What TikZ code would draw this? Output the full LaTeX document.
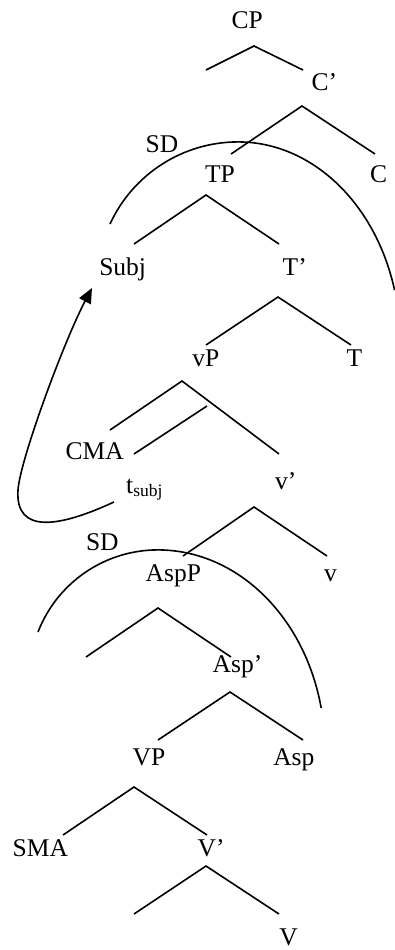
\documentclass[tikz,border=0pt]{standalone}
\usepackage{fontspec}
\setmainfont{Liberation Serif}
\usetikzlibrary{arrows.meta}
\tikzset{
  lab/.style={anchor=base west, inner sep=0pt, outer sep=0pt, font=\fontsize{25.5}{30}\selectfont},
  branch/.style={line width=1.6pt, line cap=butt},
  sdarc/.style={line width=1.6pt},
  movearrow/.style={line width=1.6pt, -{Triangle[length=15pt,width=13pt]}}
}
\newcommand{\subjsub}{\raisebox{-3pt}{\fontsize{17.5}{18}\selectfont subj}}
\begin{document}
\begin{tikzpicture}[x=1pt,y=1pt]
\useasboundingbox (0,0) rectangle (394,-950);
% labels
\node[lab] (cp)   at (231.7,-28.3) {CP};
\node[lab] (cbar) at (311.7,-90.7) {C’};
\node[lab] (sd1)  at (145.7,-152.3) {SD};
\node[lab] (tp)   at (205,-182.7) {TP};
\node[lab] (c)    at (370,-182.7) {C};
\node[lab] (subj) at (99.3,-275) {Subj};
\node[lab] (tbar) at (282.7,-275) {T’};
\node[lab] (vp)   at (192.3,-366.7) {vP};
\node[lab] (t)    at (346.7,-366.7) {T};
\node[lab] (cma)  at (65.7,-459) {CMA};
\node[lab] (tsubj) at (126.2,-493) {t\subjsub};
\node[lab] (vbar) at (275,-489.3) {v’};
\node[lab] (sd2)  at (86,-550.7) {SD};
\node[lab] (aspp) at (145.7,-581) {AspP};
\node[lab] (v)    at (324,-581) {v};
\node[lab] (aspbar) at (212.7,-672.7) {Asp’};
\node[lab] (vvp)  at (132.7,-765) {VP};
\node[lab] (asp)  at (273.3,-765) {Asp};
\node[lab] (sma)  at (12.7,-856.7) {SMA};
\node[lab] (vvbar) at (197.7,-856.7) {V’};
\node[lab] (vv)   at (279.3,-945) {V};
% branch points
\coordinate (cpA) at (254,-46);  \coordinate (cpL) at (206,-70);  \coordinate (cpR) at (303,-70);
\coordinate (cbA) at (302,-106); \coordinate (cbL) at (231,-154); \coordinate (cbR) at (375,-154);
\coordinate (tpA) at (206,-195); \coordinate (tpL) at (134,-244); \coordinate (tpR) at (279,-244);
\coordinate (tbA) at (278,-297); \coordinate (tbL) at (206,-345); \coordinate (tbR) at (351,-345);
\coordinate (vpA) at (182,-381); \coordinate (vpL) at (110,-430); \coordinate (vpR) at (279,-454);
\coordinate (vpM) at (207,-406); \coordinate (vpN) at (134,-454);
\coordinate (vbA) at (254,-507); \coordinate (vbL) at (183,-556); \coordinate (vbR) at (327,-556);
\coordinate (apA) at (158,-608); \coordinate (apL) at (86,-657);  \coordinate (apR) at (231,-657);
\coordinate (abA) at (230,-692); \coordinate (abL) at (158,-740); \coordinate (abR) at (303,-740);
\coordinate (vvA) at (134,-787); \coordinate (vvL) at (63,-835);  \coordinate (vvR) at (207,-835);
\coordinate (vbbA) at (206,-866); \coordinate (vbbL) at (134,-914); \coordinate (vbbR) at (279,-914);
\foreach \n in {cp,cb,tp,tb,vp,vb,ap,ab,vv,vbb}{
  \draw[branch] (\n L) -- (\n A) -- (\n R);
}
\draw[branch] (vpM) -- (vpN);
% SD arcs
\coordinate (arc1s) at (110,-224);
\draw[sdarc] (arc1s) arc[start angle=155.3, end angle=90, radius=141]
  arc[start angle=90, end angle=15, x radius=162, y radius=200];
\coordinate (arc2s) at (38,-632);
\draw[sdarc] (arc2s) arc[start angle=158.8, end angle=90, radius=128.6]
  arc[start angle=90, end angle=12.1, x radius=167, y radius=200];
% movement arrow
\coordinate (mvs) at (114,-502);
\coordinate (mve) at (92,-288);
\draw[movearrow] (mvs) .. controls (60,-527) and (15,-535) .. (18,-490)
  .. controls (20,-460) and (64,-341) .. (mve);
\end{tikzpicture}
\end{document}
